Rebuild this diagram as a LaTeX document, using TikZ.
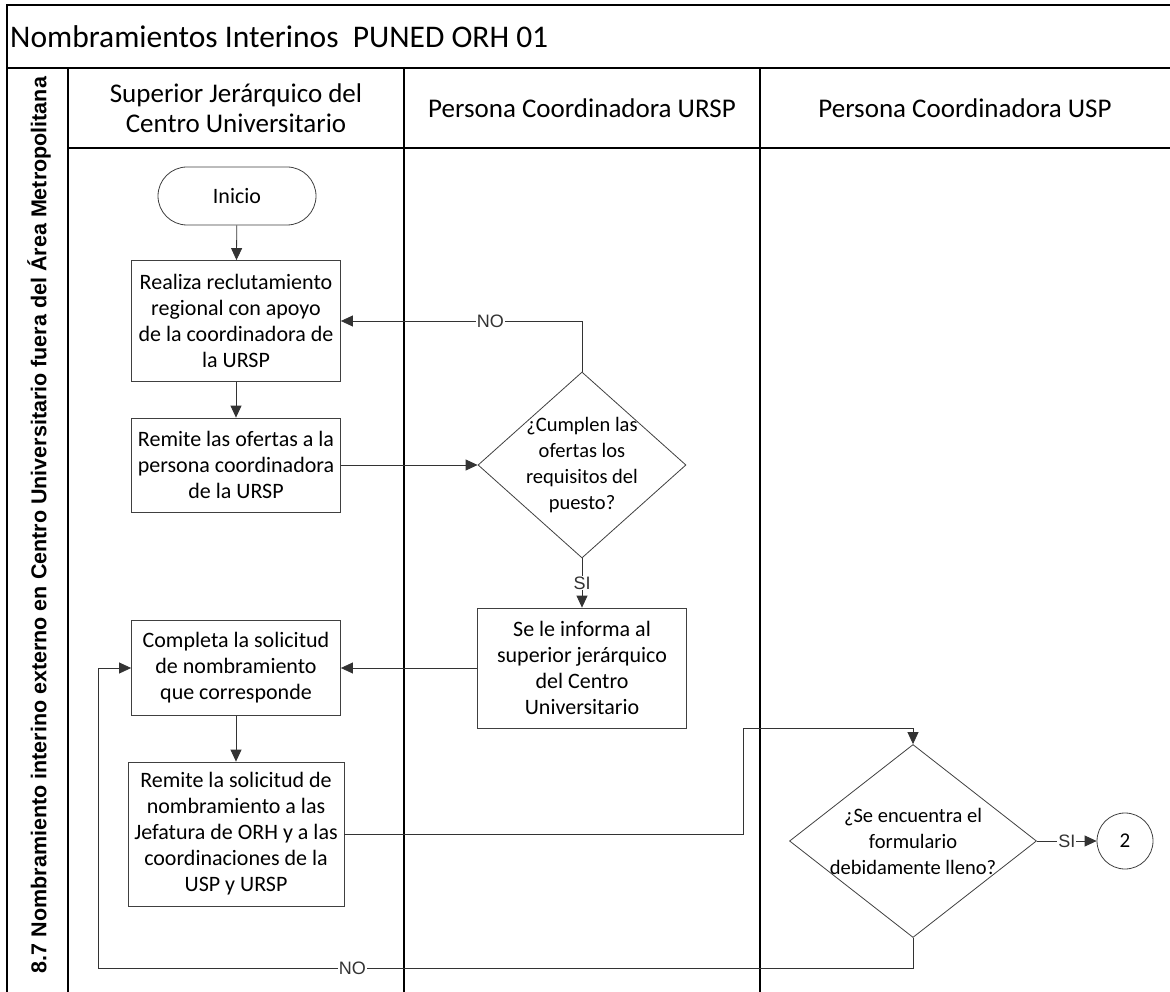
\documentclass[tikz,border=0pt]{standalone}
\usepackage{fontspec}
\setmainfont{Carlito}
\newfontfamily\arialfont{Liberation Sans}
\usetikzlibrary{arrows.meta,shapes.geometric}
\begin{document}
\begin{tikzpicture}[x=1pt,y=-1pt]
        \tikzstyle{every node}+=[inner sep=0pt]
        \tikzstyle{lane}=[black,line width=1.3pt]
        \tikzstyle{proc}=[draw=black!75,line width=0.8pt,fill=white,align=center,font=\fontsize{22}{26}\selectfont]
        \tikzstyle{decis}=[diamond,draw=black!75,line width=0.8pt,fill=white]
        \tikzstyle{dtext}=[align=center,font=\fontsize{20.5}{26}\selectfont]
        \tikzstyle{flow}=[black!80,line width=0.8pt,-{Triangle[length=12pt,width=11pt]}]
        \tikzstyle{lbl}=[fill=white,inner sep=1pt,font=\arialfont\fontsize{18}{20}\selectfont]
        \tikzstyle{head}=[align=center,font=\fontsize{27}{30}\selectfont]
        \useasboundingbox (0,0) rectangle (1170,992);
        \draw [lane] (7,992) -- (7,5) -- (1180,5);
        \draw [lane] (7,68) -- (1180,68);
        \draw [lane] (68,68) -- (68,992);
        \draw [lane] (404,68) -- (404,992);
        \draw [lane] (760,68) -- (760,992);
        \draw [lane] (68,148) -- (1180,148);
        \node [anchor=west,font=\fontsize{31.5}{34}\selectfont] (title) at (10,37) {Nombramientos Interinos\ \ PUNED ORH 01};
        \node [rotate=90,font=\arialfont\bfseries\fontsize{21.5}{24}\selectfont] (proceso) at (39,525) {8.7 Nombramiento interino externo en Centro Universitario fuera del Área Metropolitana};
        \node [head] (superior) at (236,108) {Superior Jerárquico del\\Centro Universitario};
        \node [head] (ursp) at (582,108) {Persona Coordinadora URSP};
        \node [head] (usp) at (965,108) {Persona Coordinadora USP};
        \node [proc,rounded corners=29pt,minimum width=158pt,minimum height=58pt] (inicio) at (237,196) {Inicio};
        \node [proc,minimum width=209pt,minimum height=121pt] (recluta) at (236,321) {Realiza reclutamiento\\regional con apoyo\\de la coordinadora de\\la URSP};
        \node [proc,minimum width=209pt,minimum height=94pt] (ofertas) at (236,465) {Remite las ofertas a la\\persona coordinadora\\de la URSP};
        \node [decis,minimum width=208pt,minimum height=186pt] (cumplen) at (582,465) {};
        \node [dtext] (cumplentxt) at (cumplen) {¿Cumplen las\\ofertas los\\requisitos del\\puesto?};
        \node [proc,minimum width=209pt,minimum height=120pt] (informa) at (582,668) {Se le informa al\\superior jerárquico\\del Centro\\Universitario};
        \node [proc,minimum width=209pt,minimum height=95pt] (completa) at (236,668) {Completa la solicitud\\de nombramiento\\que corresponde};
        \node [proc,minimum width=216pt,minimum height=144pt] (remite) at (236,834) {Remite la solicitud de\\nombramiento a las\\Jefatura de ORH y a las\\coordinaciones de la\\USP y URSP};
        \node [decis,minimum width=247pt,minimum height=193pt] (lleno) at (913,841) {};
        \node [dtext] (llenotxt) at (lleno) {¿Se encuentra el\\formulario\\debidamente lleno?};
        \node [circle,draw=black!75,line width=0.8pt,minimum size=56pt,font=\fontsize{21}{24}\selectfont] (conector) at (1125,841) {2};
        \coordinate (k1) at (743,728);
        \coordinate (k2) at (98,968);
        \draw [flow] (inicio) -- (recluta);
        \draw [flow] (recluta) -- (ofertas);
        \draw [flow] (ofertas) -- (cumplen);
        \draw [flow] (cumplen.north) |- node [lbl,pos=0.69] {NO} (recluta.east);
        \draw [flow] (cumplen.south) -- node [lbl] {SI} (informa.north);
        \draw [flow] (informa) -- (completa);
        \draw [flow] (completa) -- (remite);
        \draw [flow] (remite.east) -| (k1) -| (lleno.north);
        \draw [flow] (lleno) -- node [lbl] {SI} (conector);
        \draw [flow] (lleno.south) |- node [lbl,pos=0.844] {NO} (k2) |- (completa.west);
        \end{tikzpicture}
\end{document}
